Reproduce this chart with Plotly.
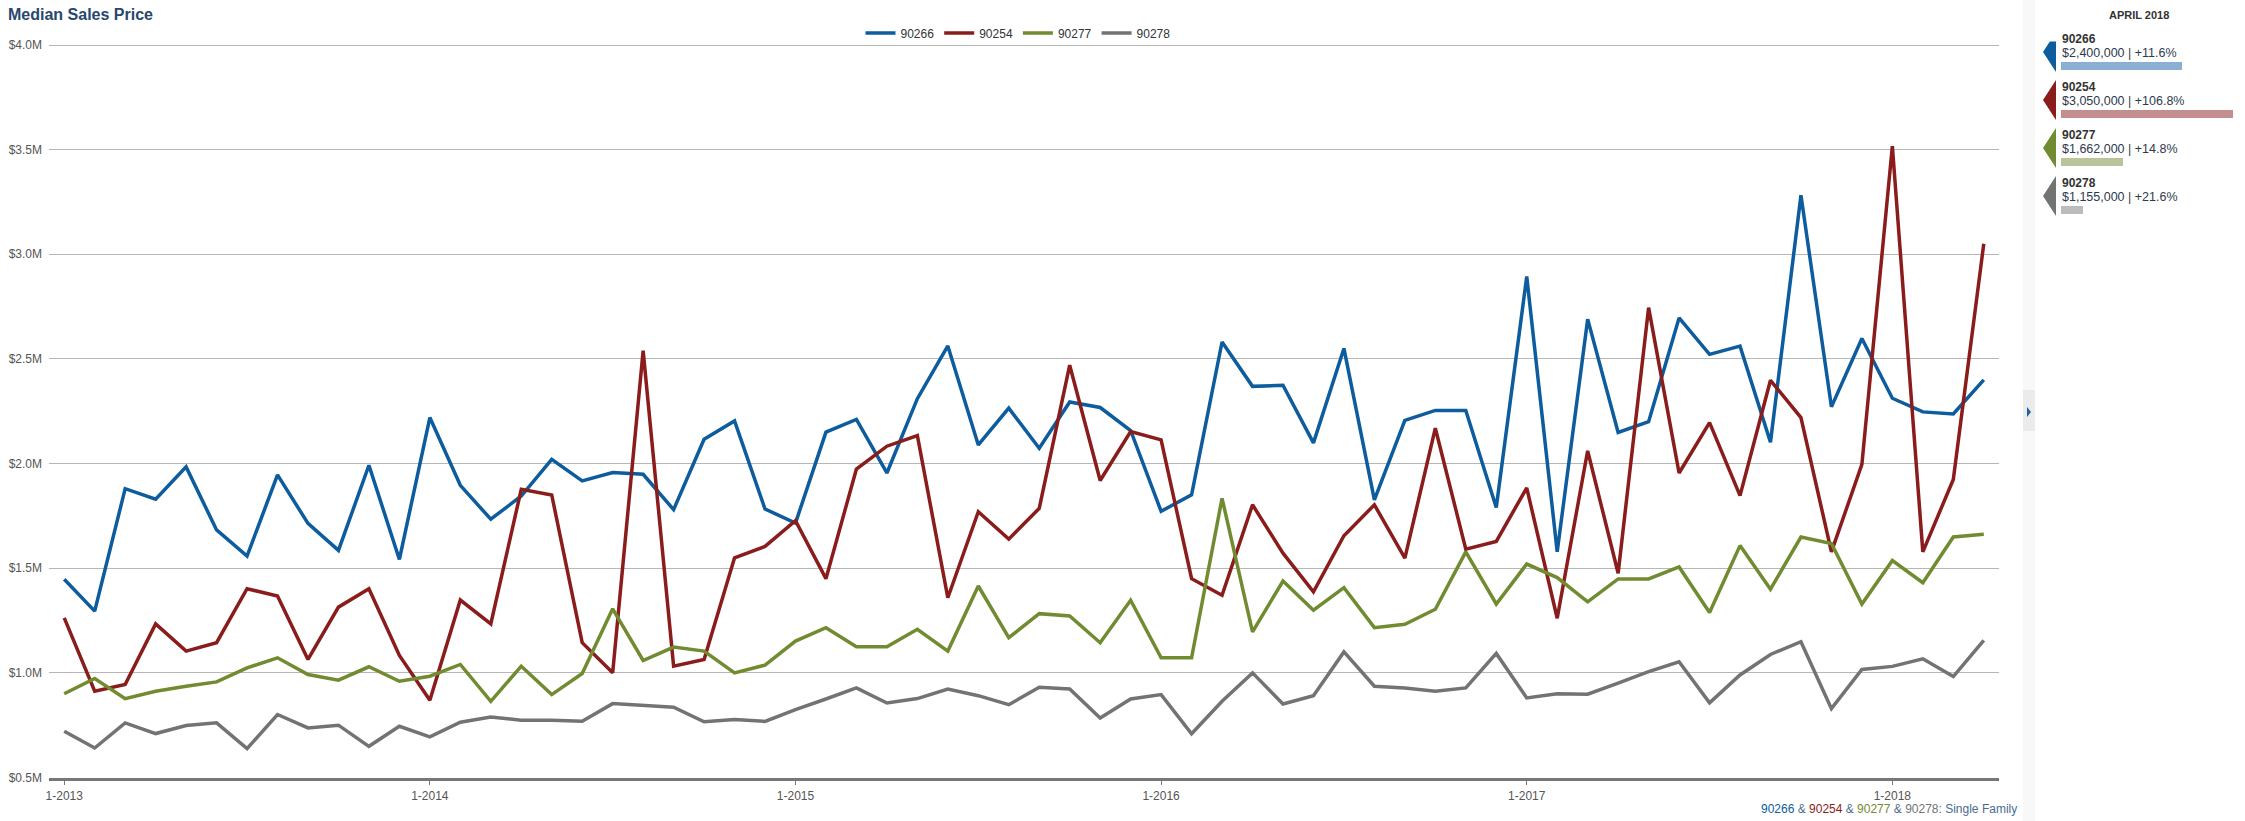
import plotly.graph_objects as go

W, H = 2245, 821

# ---------------- data ----------------
zips = ["90266", "90254", "90277", "90278"]
line_colors = ["#0c5c9e", "#8a1c1c", "#718b30", "#737373"]
bar_colors = ["#8aafd2", "#c48e8e", "#b9c49a", "#bcbcbc"]

years = [2013, 2014, 2015, 2016, 2017, 2018]
months = [f"{m}-{y}" for y in years for m in range(1, 13)][:64]
tick_labels = ["1-2013", "1-2014", "1-2015", "1-2016", "1-2017", "1-2018"]
y_tick_vals = [0.5, 1.0, 1.5, 2.0, 2.5, 3.0, 3.5, 4.0]
y_tick_labels = ["$0.5M", "$1.0M", "$1.5M", "$2.0M", "$2.5M", "$3.0M", "$3.5M", "$4.0M"]

p90266 = [1.447, 1.295, 1.880, 1.830, 1.984, 1.683, 1.558, 1.946, 1.714, 1.585, 1.992, 1.542,
          2.220, 1.896, 1.734, 1.845, 2.020, 1.917, 1.957, 1.949, 1.780, 2.116, 2.204, 1.783,
          1.716, 2.150, 2.211, 1.955, 2.310, 2.562, 2.089, 2.265, 2.073, 2.294, 2.268, 2.158,
          1.772, 1.851, 2.581, 2.369, 2.374, 2.099, 2.550, 1.827, 2.206, 2.254, 2.254, 1.790,
          2.894, 1.578, 2.690, 2.149, 2.200, 2.696, 2.522, 2.561, 2.102, 3.282, 2.271, 2.598,
          2.312, 2.247, 2.237, 2.400]
p90254 = [1.263, 0.912, 0.944, 1.234, 1.104, 1.144, 1.402, 1.367, 1.064, 1.314, 1.402, 1.083,
          0.869, 1.348, 1.234, 1.877, 1.850, 1.144, 1.000, 2.539, 1.032, 1.064, 1.550, 1.604,
          1.727, 1.450, 1.974, 2.083, 2.134, 1.359, 1.770, 1.639, 1.786, 2.470, 1.919, 2.153,
          2.113, 1.450, 1.371, 1.803, 1.572, 1.387, 1.655, 1.803, 1.548, 2.169, 1.591, 1.628,
          1.884, 1.261, 2.061, 1.476, 2.745, 1.955, 2.196, 1.847, 2.398, 2.220, 1.578, 1.996,
          3.517, 1.578, 1.924, 3.050]
p90277 = [0.900, 0.973, 0.877, 0.912, 0.936, 0.957, 1.024, 1.072, 0.992, 0.965, 1.029, 0.960,
          0.984, 1.040, 0.864, 1.032, 0.896, 0.997, 1.306, 1.059, 1.123, 1.104, 1.000, 1.037,
          1.152, 1.216, 1.125, 1.125, 1.208, 1.104, 1.415, 1.168, 1.283, 1.272, 1.144, 1.347,
          1.072, 1.072, 1.834, 1.196, 1.439, 1.299, 1.407, 1.216, 1.232, 1.304, 1.578, 1.329,
          1.520, 1.455, 1.339, 1.449, 1.449, 1.506, 1.288, 1.608, 1.400, 1.649, 1.618, 1.329,
          1.537, 1.431, 1.649, 1.662]
p90278 = [0.721, 0.641, 0.761, 0.710, 0.748, 0.761, 0.638, 0.801, 0.737, 0.750, 0.649, 0.745,
          0.694, 0.764, 0.789, 0.774, 0.774, 0.769, 0.853, 0.844, 0.836, 0.766, 0.777, 0.768,
          0.824, 0.875, 0.928, 0.856, 0.877, 0.923, 0.891, 0.848, 0.931, 0.923, 0.784, 0.875,
          0.896, 0.709, 0.864, 1.000, 0.851, 0.891, 1.100, 0.936, 0.928, 0.912, 0.928, 1.093,
          0.880, 0.900, 0.898, 0.951, 1.006, 1.053, 0.857, 0.990, 1.088, 1.149, 0.829, 1.016,
          1.031, 1.067, 0.982, 1.155]
series = [p90266, p90254, p90277, p90278]

panel_title = "APRIL 2018"
panel_values = [2400000, 3050000, 1662000, 1155000]
panel_changes = [11.6, 106.8, 14.8, 21.6]

FONT = "Arial, Liberation Sans, Helvetica, sans-serif"

def px(x):
    return x / W

def py(y):
    return 1 - y / H

fig = go.Figure()

for name, vals, col in zip(zips, series, line_colors):
    fig.add_trace(go.Scatter(x=months, y=vals, name=name, mode="lines",
                             line=dict(color=col, width=3.5),
                             xaxis="x", yaxis="y"))

# right panel bars
fig.add_trace(go.Bar(x=[v / 1e6 for v in panel_values], y=list(range(len(zips))),
                     orientation="h", marker=dict(color=bar_colors, line=dict(width=0)),
                     width=0.15, showlegend=False, xaxis="x2", yaxis="y2",
                     hoverinfo="skip"))

annotations = []
shapes = []

# side strip
shapes.append(dict(type="rect", xref="paper", yref="paper", x0=px(2023), x1=px(2035),
                   y0=0, y1=1, fillcolor="#f8f8f8", line=dict(width=0), layer="below"))
shapes.append(dict(type="rect", xref="paper", yref="paper", x0=px(2023), x1=px(2035),
                   y0=py(431), y1=py(390), fillcolor="#ebebeb", line=dict(width=0), layer="below"))
shapes.append(dict(type="path", xref="paper", yref="paper",
                   path=f"M{px(2027)},{py(407)} L{px(2031)},{py(412)} L{px(2027)},{py(417)} Z",
                   fillcolor="#1f5fa0", line=dict(width=0)))

annotations.append(dict(text=f"<b>{panel_title}</b>", xref="paper", yref="paper",
                        x=px(2139), y=py(15), xanchor="center", yanchor="middle",
                        showarrow=False, font=dict(size=11, color="#333333", family=FONT)))

for i, (z, v, c) in enumerate(zip(zips, panel_values, panel_changes)):
    annotations.append(dict(text=f"<b>{z}</b>", xref="paper", yref="y2", x=px(2060), y=i,
                            yshift=26.5, xanchor="left", yanchor="middle", showarrow=False,
                            font=dict(size=12, color="#333333", family=FONT)))
    annotations.append(dict(text=f"${v:,.0f} | +{c:.1f}%", xref="paper", yref="y2",
                            x=px(2060), y=i, yshift=12.5, xanchor="left", yanchor="middle",
                            showarrow=False, font=dict(size=12.5, color="#2e3a4c", family=FONT)))
    shapes.append(dict(type="path", xref="paper", yref="y2",
                       path=(f"M{px(2056)},{i - 0.70} L{px(2043)},{i - 0.28} "
                             f"L{px(2056)},{i + 0.135} Z"),
                       fillcolor=line_colors[i], line=dict(width=0)))

# footnote
foot = (f"<span style='color:{line_colors[0]}'>90266</span>"
        f"<span style='color:#4a6b94'> &amp; </span>"
        f"<span style='color:{line_colors[1]}'>90254</span>"
        f"<span style='color:#4a6b94'> &amp; </span>"
        f"<span style='color:{line_colors[2]}'>90277</span>"
        f"<span style='color:#4a6b94'> &amp; </span>"
        f"<span style='color:{line_colors[3]}'>90278</span>"
        f"<span style='color:#4a6b94'>: Single Family</span>")
annotations.append(dict(text=foot, xref="paper", yref="paper", x=px(2019), y=py(809),
                        xanchor="right", yanchor="middle", showarrow=False,
                        font=dict(size=12, family=FONT)))

# y scale: 0.5M -> 777.5 px, 4.0M -> 45 px ; extend range 2 px above top grid line
px_per_m = (777.5 - 45) / 3.5
y_top_px = 43
y_max = 4.0 + (45 - y_top_px) / px_per_m

fig.update_layout(
    width=W, height=H,
    margin=dict(l=0, r=0, t=0, b=0, autoexpand=False),
    paper_bgcolor="white", plot_bgcolor="white",
    font=dict(family=FONT, size=12, color="#555555"),
    title=dict(text="<b>Median Sales Price</b>", x=px(8), xanchor="left",
               y=py(14), yanchor="middle",
               font=dict(size=16, color="#27476e", family=FONT)),
    showlegend=True,
    legend=dict(orientation="h", x=px(1018), xanchor="center", y=py(33), yanchor="middle",
                font=dict(size=12, color="#333333", family=FONT), bgcolor="rgba(0,0,0,0)",
                itemwidth=30),
    xaxis=dict(domain=[px(49), px(1999)], type="category", range=[-0.5, 63.5],
               tickmode="array", tickvals=tick_labels, ticktext=tick_labels,
               showgrid=False, showline=True, linecolor="#777777", linewidth=2.5,
               ticks="outside", ticklen=5, tickwidth=1, tickcolor="#777777",
               tickfont=dict(size=12, color="#555555"), zeroline=False, fixedrange=True,
               automargin=False),
    yaxis=dict(domain=[py(777.5), py(y_top_px)], range=[0.5, y_max],
               tickmode="array", tickvals=y_tick_vals, ticktext=y_tick_labels,
               showgrid=True, gridcolor="#b7b7b7", gridwidth=1, zeroline=False,
               showline=False, ticks="", ticklabelstandoff=6,
               tickfont=dict(size=12, color="#555555"), fixedrange=True,
               automargin=False),
    xaxis2=dict(domain=[px(2061), px(2233)], range=[0.876, 3.05], visible=False,
                anchor="y2", fixedrange=True, automargin=False),
    yaxis2=dict(domain=[py(233.5), py(41.5)], range=[3.5, -0.5], visible=False,
                anchor="x2", fixedrange=True, automargin=False),
    annotations=annotations,
    shapes=shapes,
    bargap=0,
)

fig.write_html("out.html")
